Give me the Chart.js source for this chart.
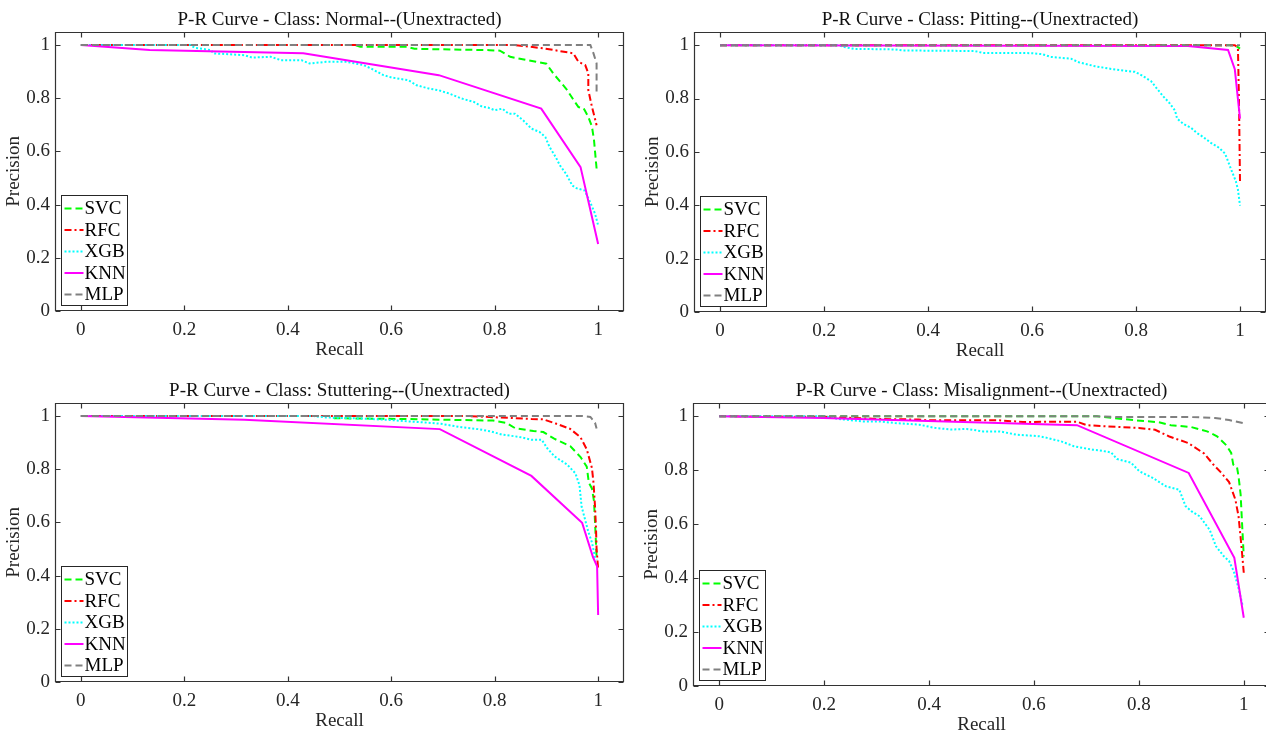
<!DOCTYPE html>
<html lang="en">
<head>
<meta charset="UTF-8" />
<title>P-R Curves (Unextracted)</title>
<script src="https://cdn.jsdelivr.net/npm/chart.js@4.4.0/dist/chart.umd.min.js"></script>
<style>
  html, body { margin: 0; padding: 0; background: #fff; overflow: hidden; }
  body { width: 1266px; height: 734px; position: relative; }
  canvas { position: absolute; }
</style>
</head>
<body>
<canvas id="prNormal"></canvas>
<canvas id="prPitting"></canvas>
<canvas id="prStuttering"></canvas>
<canvas id="prMisalignment"></canvas>

<script>
// model names, in legend order
const models = ["SVC", "RFC", "XGB", "KNN", "MLP"];

const tickValues = [0, 0.2, 0.4, 0.6, 0.8, 1];
const tickLabels = ["0", "0.2", "0.4", "0.6", "0.8", "1"];

// [recall, precision] pairs per class / model
const normalSVC = [[0,1],[0.53,1],[0.54,0.994],[0.63,0.994],[0.645,0.986],[0.79,0.981],[0.81,0.979],[0.83,0.956],[0.88,0.937],[0.9,0.93],[0.913,0.894],[0.939,0.834],[0.953,0.792],[0.962,0.767],[0.972,0.762],[0.981,0.73],[0.988,0.694],[0.992,0.643],[0.997,0.536]];
const normalRFC = [[0,1],[0.84,1],[0.894,0.988],[0.952,0.969],[0.962,0.937],[0.975,0.925],[0.981,0.894],[0.981,0.831],[0.988,0.768],[0.997,0.699]];
const normalXGB = [[0,1],[0.212,1],[0.22,0.99],[0.252,0.981],[0.256,0.969],[0.316,0.962],[0.331,0.953],[0.367,0.956],[0.387,0.943],[0.427,0.943],[0.442,0.931],[0.474,0.937],[0.514,0.937],[0.546,0.925],[0.561,0.912],[0.585,0.887],[0.601,0.878],[0.633,0.868],[0.649,0.849],[0.672,0.837],[0.692,0.83],[0.712,0.818],[0.736,0.799],[0.76,0.786],[0.776,0.768],[0.787,0.765],[0.8,0.755],[0.815,0.761],[0.827,0.742],[0.839,0.742],[0.855,0.717],[0.871,0.686],[0.887,0.673],[0.898,0.654],[0.906,0.617],[0.918,0.579],[0.926,0.548],[0.938,0.516],[0.95,0.472],[0.958,0.462],[0.974,0.453],[0.986,0.403],[0.994,0.366],[1,0.322]];
const normalKNN = [[0,1],[0.133,0.982],[0.43,0.969],[0.692,0.887],[0.89,0.761],[0.966,0.541],[1,0.252]];
const normalMLP = [[0,1],[0.985,1],[0.991,0.969],[0.997,0.931],[0.997,0.824]];

const pittingSVC = [[0,1],[0.99,1],[1,0.987]];
const pittingRFC = [[0,1],[0.99,1],[0.996,0.99],[0.998,0.8],[1,0.49]];
const pittingXGB = [[0,1],[0.227,1],[0.239,0.993],[0.258,0.986],[0.335,0.984],[0.351,0.98],[0.49,0.978],[0.505,0.971],[0.6,0.97],[0.62,0.966],[0.636,0.956],[0.675,0.949],[0.69,0.936],[0.721,0.921],[0.752,0.911],[0.783,0.903],[0.798,0.9],[0.81,0.888],[0.829,0.865],[0.837,0.845],[0.852,0.809],[0.864,0.784],[0.875,0.755],[0.879,0.725],[0.891,0.705],[0.906,0.69],[0.917,0.671],[0.929,0.656],[0.944,0.634],[0.96,0.615],[0.971,0.594],[0.975,0.575],[0.983,0.534],[0.992,0.49],[0.996,0.459],[1,0.399]];
const pittingKNN = [[0,1],[0.9,0.997],[0.977,0.982],[0.99,0.91],[1,0.725]];
const pittingMLP = [[0,1],[1,1]];

const stutteringSVC = [[0,1],[0.48,1],[0.49,0.992],[0.633,0.989],[0.71,0.986],[0.797,0.983],[0.823,0.974],[0.84,0.954],[0.875,0.944],[0.894,0.94],[0.915,0.915],[0.946,0.887],[0.966,0.846],[0.978,0.81],[0.982,0.75],[0.988,0.728],[0.992,0.68],[0.994,0.6],[0.997,0.47]];
const stutteringRFC = [[0,1],[0.75,1],[0.797,0.996],[0.871,0.989],[0.894,0.988],[0.918,0.972],[0.946,0.952],[0.966,0.92],[0.978,0.875],[0.988,0.805],[0.991,0.75],[0.994,0.66],[0.996,0.57],[0.997,0.5],[1,0.426]];
const stutteringXGB = [[0,1],[0.45,1],[0.474,0.995],[0.553,0.99],[0.601,0.985],[0.633,0.98],[0.665,0.976],[0.696,0.971],[0.736,0.958],[0.768,0.951],[0.791,0.943],[0.815,0.93],[0.847,0.922],[0.871,0.911],[0.891,0.911],[0.902,0.878],[0.916,0.848],[0.94,0.818],[0.956,0.785],[0.964,0.74],[0.968,0.66],[0.975,0.609],[0.981,0.565],[0.988,0.525],[0.994,0.47],[0.998,0.46]];
const stutteringKNN = [[0,1],[0.316,0.986],[0.694,0.951],[0.871,0.775],[0.969,0.599],[0.99,0.47],[0.998,0.435],[1,0.252]];
const stutteringMLP = [[0,1],[0.97,1],[0.985,0.997],[0.994,0.975],[0.997,0.953]];

const misalignSVC = [[0,1],[0.72,1],[0.75,0.994],[0.789,0.986],[0.838,0.978],[0.861,0.967],[0.9,0.96],[0.93,0.944],[0.949,0.926],[0.967,0.892],[0.976,0.864],[0.98,0.821],[0.987,0.812],[0.99,0.778],[0.994,0.71],[0.997,0.593],[1,0.48]];
const misalignRFC = [[0,1],[0.2,0.998],[0.304,0.99],[0.38,0.988],[0.396,0.985],[0.533,0.985],[0.579,0.979],[0.682,0.98],[0.701,0.967],[0.732,0.963],[0.8,0.957],[0.831,0.95],[0.858,0.925],[0.894,0.901],[0.925,0.861],[0.942,0.821],[0.956,0.793],[0.972,0.756],[0.984,0.691],[0.99,0.63],[0.995,0.53],[1,0.42]];
const misalignXGB = [[0,1],[0.2,1],[0.228,0.99],[0.274,0.981],[0.304,0.981],[0.335,0.975],[0.381,0.969],[0.411,0.957],[0.442,0.951],[0.472,0.953],[0.503,0.944],[0.535,0.944],[0.566,0.932],[0.61,0.926],[0.625,0.92],[0.652,0.907],[0.676,0.889],[0.712,0.876],[0.724,0.874],[0.747,0.866],[0.758,0.842],[0.785,0.828],[0.801,0.796],[0.826,0.772],[0.852,0.74],[0.877,0.728],[0.889,0.667],[0.9,0.648],[0.916,0.629],[0.935,0.579],[0.947,0.518],[0.962,0.481],[0.972,0.463],[0.981,0.425],[0.989,0.37],[0.995,0.322],[0.998,0.296]];
const misalignKNN = [[0,1],[0.198,0.994],[0.682,0.967],[0.895,0.79],[0.982,0.475],[1,0.253]];
const misalignMLP = [[0,1],[0.72,1],[0.76,0.997],[0.9,0.997],[0.945,0.994],[0.972,0.986],[1,0.974]];

// matlab-ish line styles per model
const lineStyles = [
  { color: "#00ff00", dash: [7, 4],       order: 4 },  // SVC  --
  { color: "#ff0000", dash: [7, 3, 2, 3], order: 3 },  // RFC  -.
  { color: "#00ffff", dash: [2, 2],       order: 2 },  // XGB  :
  { color: "#ff00ff", dash: [],           order: 1 },  // KNN  -
  { color: "#808080", dash: [7, 4],       order: 0 },  // MLP  --
];

const AXIS_W = 55;      // y axis band
const AXIS_H = 55;      // x axis band
const TICK = 5;

Chart.defaults.font.family = '"Liberation Serif", "Times New Roman", serif';
Chart.defaults.font.size = 19;
Chart.defaults.color = "#262626";

// box around the axes with inward ticks on all four sides
const axesBox = {
  id: "axesBox",
  afterDatasetsDraw(chart) {
    const { ctx, chartArea: a, scales: { x, y } } = chart;
    ctx.save();
    ctx.strokeStyle = "#333";
    ctx.lineWidth = 1.2;
    const l = Math.round(a.left) + 0.5, r = Math.round(a.right) - 0.5;
    const t = Math.round(a.top) + 0.5, b = Math.round(a.bottom) - 0.5;
    ctx.beginPath();
    ctx.rect(l, t, r - l, b - t);
    x.ticks.forEach(tk => {
      const px = Math.round(x.getPixelForValue(tk.value)) + 0.5;
      ctx.moveTo(px, b); ctx.lineTo(px, b - TICK);
      ctx.moveTo(px, t); ctx.lineTo(px, t + TICK);
    });
    y.ticks.forEach(tk => {
      const py = Math.round(y.getPixelForValue(tk.value)) + 0.5;
      ctx.moveTo(l, py); ctx.lineTo(l + TICK, py);
      ctx.moveTo(r, py); ctx.lineTo(r - TICK, py);
    });
    ctx.stroke();
    ctx.restore();
  }
};

// boxed legend in the lower left corner of the axes
const cornerLegend = {
  id: "cornerLegend",
  afterDraw(chart) {
    const { ctx, chartArea: a } = chart;
    const sets = chart.data.datasets;
    const rowH = 21.5, w = 66, h = 110;
    const x = Math.round(a.left) + 6.5;
    const y = Math.round(a.bottom - 6 - h) + 0.5;
    ctx.save();
    ctx.fillStyle = "#fff";
    ctx.fillRect(x, y, w, h);
    ctx.strokeStyle = "#262626";
    ctx.lineWidth = 1;
    ctx.strokeRect(x, y, w, h);
    ctx.font = '19px "Liberation Serif"';
    ctx.textBaseline = "middle";
    sets.forEach((ds, i) => {
      const cy = y + 13 + i * rowH;
      ctx.strokeStyle = ds.borderColor;
      ctx.lineWidth = 2;
      ctx.setLineDash(ds.borderDash);
      ctx.beginPath();
      ctx.moveTo(x + 3, cy);
      ctx.lineTo(x + 22, cy);
      ctx.stroke();
      ctx.setLineDash([]);
      ctx.fillStyle = "#000";
      ctx.fillText(ds.label, x + 23, cy + 1);
    });
    ctx.restore();
  }
};

const panels = [
  { id: "prNormal",       name: "Normal",       left: 0,   top: 0,   plotW: 569, height: 366,
    series: [normalSVC, normalRFC, normalXGB, normalKNN, normalMLP] },
  { id: "prPitting",      name: "Pitting",      left: 639, top: 0,   plotW: 572, height: 367,
    series: [pittingSVC, pittingRFC, pittingXGB, pittingKNN, pittingMLP] },
  { id: "prStuttering",   name: "Stuttering",   left: 0,   top: 371, plotW: 569, height: 366,
    series: [stutteringSVC, stutteringRFC, stutteringXGB, stutteringKNN, stutteringMLP] },
  { id: "prMisalignment", name: "Misalignment", left: 638, top: 371, plotW: 577, height: 370,
    series: [misalignSVC, misalignRFC, misalignXGB, misalignKNN, misalignMLP] },
];

panels.forEach(p => {
  const canvas = document.getElementById(p.id);
  const width = AXIS_W + p.plotW + 12;
  canvas.width = width;
  canvas.height = p.height;
  canvas.style.left = p.left + "px";
  canvas.style.top = p.top + "px";
  canvas.style.width = width + "px";
  canvas.style.height = p.height + "px";

  const datasets = p.series.map((pts, i) => ({
    label: models[i],
    data: pts.map(([r, pr]) => ({ x: r, y: pr })),
    borderColor: lineStyles[i].color,
    borderDash: lineStyles[i].dash,
    order: lineStyles[i].order,
    borderWidth: 2,
    pointRadius: 0,
    tension: 0,
    fill: false,
  }));

  new Chart(canvas, {
    type: "line",
    data: { datasets },
    plugins: [axesBox, cornerLegend],
    options: {
      responsive: false,
      animation: false,
      devicePixelRatio: 1,
      layout: { padding: { left: 0, right: 12, top: 0, bottom: 0 } },
      plugins: {
        legend: { display: false },
        tooltip: { enabled: false },
        title: {
          display: true,
          fullSize: false,
          text: "P-R Curve - Class: " + p.name + "--(Unextracted)",
          color: "#111",
          font: { size: 19, weight: "normal" },
          padding: { top: 9, bottom: 0 },
        },
      },
      scales: {
        x: {
          type: "linear",
          min: -0.05,
          max: 1.05,
          afterBuildTicks: axis => { axis.ticks = tickValues.map(v => ({ value: v })); },
          afterFit: axis => { axis.height = AXIS_H; },
          grid: { display: false, drawTicks: false },
          border: { display: false },
          ticks: { padding: 8, maxRotation: 0, autoSkip: false, callback: (v, i) => tickLabels[i] },
          title: { display: true, text: "Recall", padding: { top: 0, bottom: 5 } },
        },
        y: {
          type: "linear",
          min: 0,
          max: 1.05,
          afterBuildTicks: axis => { axis.ticks = tickValues.map(v => ({ value: v })); },
          afterFit: axis => { axis.width = AXIS_W; },
          grid: { display: false, drawTicks: false },
          border: { display: false },
          ticks: { padding: 5, autoSkip: false, callback: (v, i) => tickLabels[i] },
          title: { display: true, text: "Precision", padding: { top: 3, bottom: 0 } },
        },
      },
    },
  });
});
</script>
</body>
</html>
